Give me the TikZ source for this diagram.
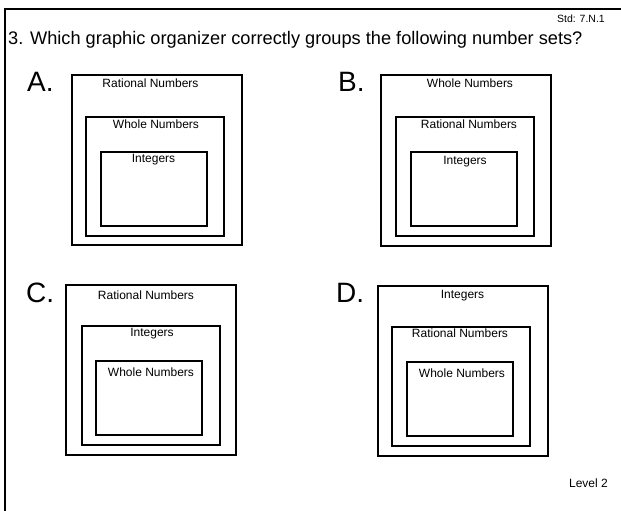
\documentclass[tikz,border=0pt]{standalone}
\usepackage{fontspec}
\setmainfont{Liberation Sans}
\usetikzlibrary{positioning}

\begin{document}
\begin{tikzpicture}[x=1pt,y=-1pt,
    setbox/.style={draw, line width=2pt, inner sep=0pt},
    outerbox/.style={setbox, minimum width=170, minimum height=170},
    midbox/.style={setbox, minimum width=138, minimum height=119},
    innerbox/.style={setbox, minimum width=106, minimum height=74},
    setname/.style={font=\fontsize{12}{14}\selectfont, inner sep=0pt, anchor=base},
    choice/.style={font=\fontsize{28}{32}\selectfont, inner sep=0pt, anchor=base west}]
  \useasboundingbox (0,0) rectangle (621,511);
  \draw[line width=2pt] (5,511) -- (5,9) -- (621,9);
  \node[font=\fontsize{10.5}{12}\selectfont, inner sep=0pt, anchor=base east] (std) at (605,23) {Std: 7.N.1};
  \node[font=\fontsize{18.2}{22}\selectfont, inner sep=0pt, anchor=base west] (question) at (8,45) {3. Which graphic organizer correctly groups the following number sets?};
  % choice A
  \node[choice] (A) at (27,92) {A.};
  \node[outerbox] (A1) at (156.5,160) {};
  \node[midbox] (A2) at (155,176) {};
  \node[innerbox] (A3) at (153.5,188.5) {};
  \node[setname] (A1t) at ([xshift=-6pt,yshift=-14pt]A1.north) {Rational Numbers};
  \node[setname] (A2t) at ([xshift=1pt,yshift=-13pt]A2.north) {Whole Numbers};
  \node[setname] (A3t) at ([yshift=-12pt]A3.north) {Integers};
  % choice B
  \node[choice] (B) at (338,92) {B.};
  \node[outerbox] (B1) at (466,160.5) {};
  \node[midbox] (B2) at (465,176.5) {};
  \node[innerbox] (B3) at (463.5,189) {};
  \node[setname] (B1t) at ([xshift=4pt,yshift=-13pt]B1.north) {Whole Numbers};
  \node[setname] (B2t) at ([xshift=4pt,yshift=-12pt]B2.north) {Rational Numbers};
  \node[setname] (B3t) at ([xshift=1.5pt,yshift=-13pt]B3.north) {Integers};
  % choice C
  \node[choice] (C) at (26,302) {C.};
  \node[outerbox] (C1) at (151,370) {};
  \node[midbox] (C2) at (150.5,385.5) {};
  \node[innerbox] (C3) at (149,398) {};
  \node[setname] (C1t) at ([xshift=-5pt,yshift=-15pt]C1.north) {Rational Numbers};
  \node[setname] (C2t) at ([xshift=1.5pt,yshift=-11pt]C2.north) {Integers};
  \node[setname] (C3t) at ([xshift=2pt,yshift=-16pt]C3.north) {Whole Numbers};
  % choice D
  \node[choice] (D) at (336,302) {D.};
  \node[outerbox] (D1) at (462.5,371) {};
  \node[midbox] (D2) at (461,386.5) {};
  \node[innerbox] (D3) at (460,399) {};
  \node[setname] (D1t) at ([yshift=-13pt]D1.north) {Integers};
  \node[setname] (D2t) at ([xshift=-1pt,yshift=-11pt]D2.north) {Rational Numbers};
  \node[setname] (D3t) at ([xshift=2pt,yshift=-16pt]D3.north) {Whole Numbers};
  \node[font=\fontsize{12}{14}\selectfont, inner sep=0pt, anchor=base east] (level) at (608,487) {Level 2};
\end{tikzpicture}
\end{document}
